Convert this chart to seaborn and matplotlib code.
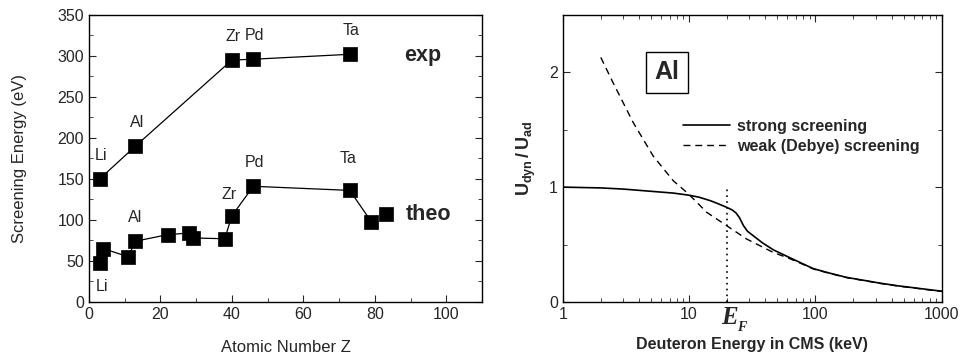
import matplotlib
matplotlib.use("Agg")
import matplotlib.pyplot as plt
import numpy as np
import pandas as pd
import seaborn as sns

# ---------------- data ----------------
exp_labels = ["Li", "Al", "Zr", "Pd", "Ta"]
exp_z = [3, 13, 40, 46, 73]
exp_energy = [150, 190, 295, 296, 302]

theo_labels = ["Li", "", "", "Al", "", "", "", "", "Zr", "Pd", "Ta", "", ""]
theo_z = [3, 4, 11, 13, 22, 28, 29, 38, 40, 46, 73, 79, 83]
theo_energy = [48, 65, 55, 74, 82, 84, 78, 77, 105, 141, 136, 98, 107]

strong_E = [1, 2, 3, 5.2, 7.5, 9.9, 12, 14.7, 17, 19.9, 22, 23.5, 25, 26.9, 29, 32.3, 38,
            46.5, 60, 75, 96, 130, 177, 250, 325, 450, 600, 800, 1000]
strong_U = [1.0, 0.993, 0.983, 0.962, 0.948, 0.93, 0.912, 0.882, 0.855, 0.823, 0.8, 0.775,
            0.735, 0.665, 0.615, 0.575, 0.515, 0.453, 0.395, 0.345, 0.29, 0.25, 0.213,
            0.185, 0.163, 0.14, 0.123, 0.106, 0.093]

weak_E = [2.0, 2.5, 3.6, 5.2, 7.5, 9.9, 13.8, 19.9, 28.6, 46.5, 60, 75, 96, 130, 177, 250,
          325, 450, 600, 800, 1000]
weak_U = [2.13, 1.91, 1.565, 1.27, 1.055, 0.94, 0.78, 0.663, 0.547, 0.43, 0.385, 0.34, 0.287,
          0.248, 0.211, 0.183, 0.161, 0.138, 0.121, 0.104, 0.09]

E_fermi = 20

# ---------------- style ----------------
sns.set_style("ticks")
plt.rcParams["font.family"] = ["Liberation Sans", "DejaVu Sans"]
plt.rcParams["mathtext.fontset"] = "custom"
plt.rcParams["mathtext.rm"] = "Liberation Sans"
plt.rcParams["mathtext.bf"] = "Liberation Sans:bold"
plt.rcParams["mathtext.it"] = "Liberation Sans:italic"
plt.rcParams["axes.linewidth"] = 1.0
plt.rcParams["axes.edgecolor"] = "black"

fig = plt.figure(figsize=(9.62, 3.56), dpi=100)
ax1 = fig.add_axes([0.0925, 0.152, 0.4085, 0.806])
ax2 = fig.add_axes([0.585, 0.152, 0.394, 0.806])

# ---------------- left panel ----------------
exp_df = pd.DataFrame({"Z": exp_z, "E": exp_energy})
theo_df = pd.DataFrame({"Z": theo_z, "E": theo_energy})

sns.lineplot(data=exp_df, x="Z", y="E", sort=False, estimator=None, color="black",
             linewidth=0.9, ax=ax1)
sns.lineplot(data=theo_df.iloc[:-1], x="Z", y="E", sort=False, estimator=None,
             color="black", linewidth=0.9, ax=ax1)
sns.scatterplot(data=exp_df, x="Z", y="E", marker="s", s=90, color="black",
                edgecolor="black", linewidth=0.5, zorder=3, ax=ax1)
sns.scatterplot(data=theo_df, x="Z", y="E", marker="s", s=90, color="black",
                edgecolor="black", linewidth=0.5, zorder=3, ax=ax1)

for lab, z, e in zip(exp_labels, exp_z, exp_energy):
    ax1.annotate(lab, (z, e), xytext=(1, 17), textcoords="offset points",
                 ha="center", va="center", fontsize=11.5)

theo_offsets = {"Li": (2, -17), "Al": (0, 17), "Zr": (-2, 15), "Pd": (1, 17), "Ta": (-1, 23)}
for lab, z, e in zip(theo_labels, theo_z, theo_energy):
    if lab:
        ax1.annotate(lab, (z, e), xytext=theo_offsets[lab], textcoords="offset points",
                     ha="center", va="center", fontsize=11.5)

ax1.text(93.5, 300, "exp", fontsize=15.5, fontweight="bold", ha="center", va="center")
ax1.text(95, 106, "theo", fontsize=15.5, fontweight="bold", ha="center", va="center")

ax1.set_xlim(0, 110)
ax1.set_ylim(0, 350)
ax1.set_xticks([0, 20, 40, 60, 80, 100])
ax1.set_xticks(np.arange(10, 110, 20), minor=True)
ax1.set_yticks(np.arange(0, 351, 50))
ax1.set_yticks(np.arange(25, 350, 50), minor=True)
ax1.tick_params(which="both", direction="in", right=True, top=False, labelsize=11.5)
ax1.tick_params(which="major", length=5)
ax1.tick_params(which="minor", length=3)
ax1.set_xlabel("Atomic Number Z", fontsize=12, labelpad=13)
ax1.set_ylabel("Screening Energy (eV)", fontsize=12, labelpad=22)

# ---------------- right panel ----------------
strong_df = pd.DataFrame({"E": strong_E, "U": strong_U})
weak_df = pd.DataFrame({"E": weak_E, "U": weak_U})

sns.lineplot(data=strong_df, x="E", y="U", color="black", linewidth=1.2,
             estimator=None, ax=ax2, label="strong screening")
sns.lineplot(data=weak_df, x="E", y="U", color="black", linewidth=1.0,
             estimator=None, ax=ax2, label="weak (Debye) screening", linestyle=(0, (5, 3.5)))
ax2.plot([E_fermi, E_fermi], [0, 1.0], color="black", linestyle=(0, (1, 2.5)), linewidth=1.2)

ax2.set_xscale("log")
ax2.set_xlim(1, 1000)
ax2.set_ylim(0, 2.5)
ax2.set_xticks([1, 10, 100, 1000])
ax2.set_xticklabels(["1", "10", "100", "1000"])
ax2.set_yticks([0, 1, 2])
ax2.set_yticklabels(["0", "1", "2"])
ax2.set_yticks([0.5, 1.5], minor=True)
ax2.tick_params(which="both", direction="in", right=True, top=True, labelsize=11.5)
ax2.tick_params(which="major", length=5)
ax2.tick_params(which="minor", length=3)
ax2.set_xlabel("Deuteron Energy in CMS (keV)", fontsize=11.5, fontweight="bold", labelpad=11)
ax2.set_ylabel(r"$\mathbf{U_{dyn}\,/\,U_{ad}}$", fontsize=13, labelpad=8)

ax2.text(E_fermi * 1.05, -0.135, "E", family="Liberation Serif", fontsize=18,
         fontweight="bold", fontstyle="italic", ha="center", va="center", clip_on=False)
ax2.text(E_fermi * 1.3, -0.225, "F", family="Liberation Serif", fontsize=10,
         fontweight="bold", fontstyle="italic", ha="center", va="center", clip_on=False)

ax2.text(6.66, 2.0, "Al", fontsize=18, fontweight="bold", ha="center", va="center",
         bbox=dict(boxstyle="square,pad=0.35", facecolor="white", edgecolor="black",
                   linewidth=1.0))

leg = ax2.legend(loc="upper left", bbox_to_anchor=(0.295, 0.665), frameon=False,
                 handlelength=3.0, handletextpad=0.4, borderpad=0, labelspacing=0.3,
                 prop={"weight": "bold", "size": 11.5, "family": "Liberation Sans"})

fig.savefig("out.png", dpi=100)
